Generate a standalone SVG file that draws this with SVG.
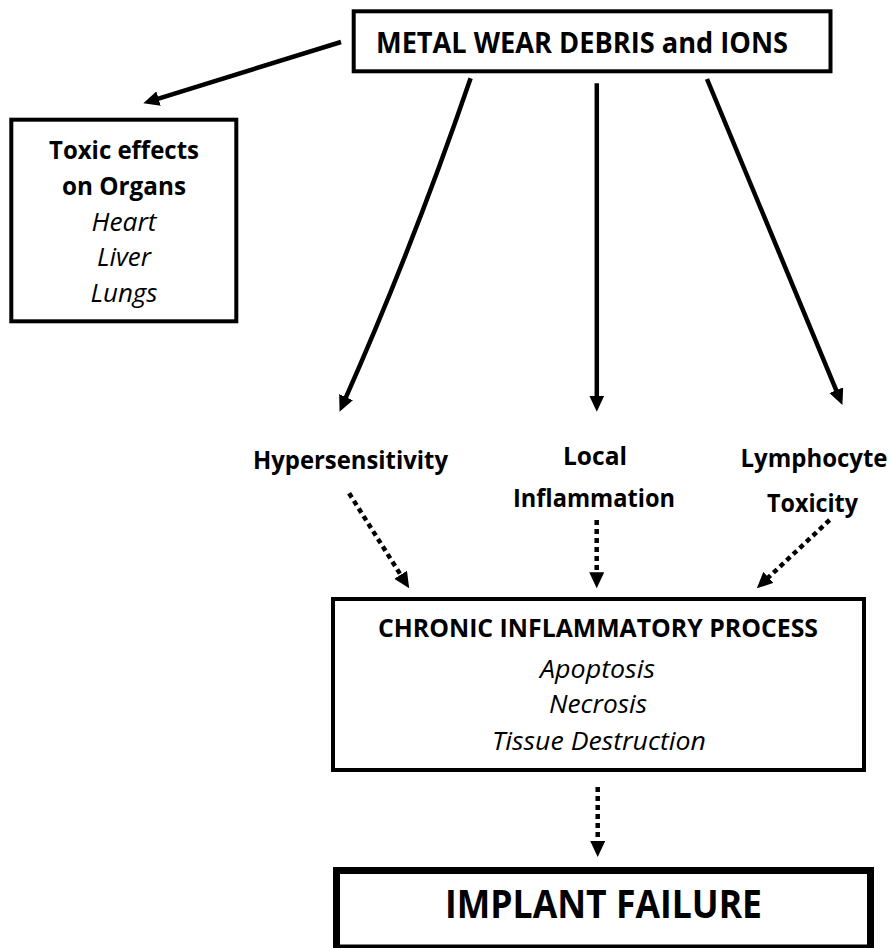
<svg xmlns="http://www.w3.org/2000/svg" width="892" height="948" viewBox="0 0 892 948">
<style>
.box{fill:#fff;stroke:#000;stroke-width:4}
.thick{fill:#fff;stroke:#000;stroke-width:7}
.t{font-family:"Open Sans","Noto Sans","Liberation Sans",sans-serif;fill:#000;text-anchor:middle}
.b{font-weight:bold}
.i{font-style:italic}
.solid{fill:none;stroke:#000;stroke-width:4.5;marker-end:url(#ah)}
.dot{fill:none;stroke:#000;stroke-width:4.5;stroke-dasharray:5 4;marker-end:url(#ah)}
</style>
<defs>
<marker id="ah" markerUnits="userSpaceOnUse" viewBox="0 0 16 15" markerWidth="16" markerHeight="15" refX="6" refY="7.5" orient="auto">
<path d="M0,0 L16,7.5 L0,15 Z" fill="#000"/>
</marker>
</defs>
<rect width="892" height="948" fill="#fff"/>
<g id="connectors">
<path class="solid" d="M341,42 L152.85,100.34"/>
<path class="solid" d="M470.6,78.3 Q412.4,247.9 343.6,402.6"/>
<path class="solid" d="M596.8,83.3 L596.8,401.7"/>
<path class="solid" d="M707,79 L838.56,395.77"/>
<path class="dot" d="M349.1,493.3 L403.85,579.85"/>
<path class="dot" d="M596.7,520 L596.7,578.3"/>
<path class="dot" d="M829.6,520 L764.1,581.5"/>
<path class="dot" d="M597.7,787 L597.7,847"/>
</g>
<g id="metal">
<rect class="box" x="353.7" y="11.3" width="476.8" height="60"/>
<text class="t b" x="582" y="53" font-size="29" textLength="412" lengthAdjust="spacingAndGlyphs">METAL WEAR DEBRIS and IONS</text>
</g>
<g id="toxic">
<rect class="box" x="11.3" y="119.7" width="225" height="201.6"/>
<text class="t b" x="124" y="159" font-size="25" textLength="150" lengthAdjust="spacingAndGlyphs">Toxic effects</text>
<text class="t b" x="124" y="195" font-size="25" textLength="124" lengthAdjust="spacingAndGlyphs">on Organs</text>
<text class="t i" x="124" y="231" font-size="25" textLength="65" lengthAdjust="spacingAndGlyphs">Heart</text>
<text class="t i" x="124" y="266" font-size="25" textLength="54" lengthAdjust="spacingAndGlyphs">Liver</text>
<text class="t i" x="124" y="302" font-size="25" textLength="67" lengthAdjust="spacingAndGlyphs">Lungs</text>
</g>
<g id="hypersensitivity">
<text class="t b" x="350.5" y="469" font-size="25" textLength="195" lengthAdjust="spacingAndGlyphs">Hypersensitivity</text>
</g>
<g id="local">
<text class="t b" x="595" y="465" font-size="25" textLength="64" lengthAdjust="spacingAndGlyphs">Local</text>
<text class="t b" x="594" y="507" font-size="25" textLength="162" lengthAdjust="spacingAndGlyphs">Inflammation</text>
</g>
<g id="lymphocyte">
<text class="t b" x="814" y="467" font-size="25" textLength="147" lengthAdjust="spacingAndGlyphs">Lymphocyte</text>
<text class="t b" x="812.5" y="512" font-size="25" textLength="91" lengthAdjust="spacingAndGlyphs">Toxicity</text>
</g>
<g id="chronic">
<rect class="box" x="333" y="599" width="531" height="171"/>
<text class="t b" x="598" y="637" font-size="25" textLength="440" lengthAdjust="spacingAndGlyphs">CHRONIC INFLAMMATORY PROCESS</text>
<text class="t i" x="597.5" y="678" font-size="25" textLength="115" lengthAdjust="spacingAndGlyphs">Apoptosis</text>
<text class="t i" x="598" y="713" font-size="25" textLength="98" lengthAdjust="spacingAndGlyphs">Necrosis</text>
<text class="t i" x="599" y="750" font-size="25" textLength="214" lengthAdjust="spacingAndGlyphs">Tissue Destruction</text>
</g>
<g id="implant">
<rect class="thick" x="336.5" y="870.5" width="534" height="77.5"/>
<text class="t b" x="603.5" y="918" font-size="39" textLength="317" lengthAdjust="spacingAndGlyphs">IMPLANT FAILURE</text>
</g>
</svg>
